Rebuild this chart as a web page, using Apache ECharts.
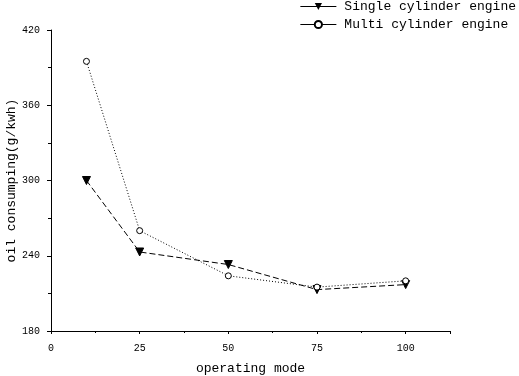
<!DOCTYPE html>
<html>
<head>
<meta charset="utf-8">
<script src="https://cdn.jsdelivr.net/npm/echarts@6/dist/echarts.min.js"></script>
<style>html,body{margin:0;padding:0;background:#fff}#c{width:519px;height:376px}</style>
</head>
<body>
<div id="c"></div>
<script>
const xValues = [10, 25, 50, 75, 100];
const singleCylinder = [300, 243, 233, 213, 217];
const multiCylinder = [395, 260, 224, 215, 220];
const seriesNames = ['Single cylinder engine', 'Multi cylinder engine'];
const xAxisTitle = 'operating mode';
const yAxisTitle = 'oil consumping(g/kwh)';

const font = 'Liberation Mono, DejaVu Sans Mono, monospace';
const chart = echarts.init(document.getElementById('c'));
chart.setOption({
  animation: false,
  backgroundColor: '#fff',
  grid: { left: 51, right: 69, top: 30, bottom: 45, containLabel: false, outerBoundsMode: 'none' },
  legend: {
    orient: 'vertical', right: 3, top: 0, padding: 0, itemGap: 5,
    itemWidth: 36, itemHeight: 9,
    textStyle: { fontFamily: font, fontSize: 13, color: '#000', padding: [0, 0, 0, 3] },
    lineStyle: { type: 'solid', width: 1 },
    data: seriesNames
  },
  xAxis: {
    type: 'value', min: 0, max: 112.5, interval: 25,
    name: xAxisTitle, nameLocation: 'middle', nameGap: 31, nameMoveOverlap: false,
    nameTextStyle: { fontFamily: font, fontSize: 13, color: '#000' },
    axisLine: { lineStyle: { color: '#000', width: 1 } },
    axisTick: { length: 3, lineStyle: { color: '#000' } },
    minorTick: { show: true, splitNumber: 2, length: 2, lineStyle: { color: '#000' } },
    axisLabel: { fontFamily: font, fontSize: 10, color: '#000', margin: 12,
      formatter: v => (v % 25 === 0 && v <= 100) ? String(v) : '' },
    splitLine: { show: false }
  },
  yAxis: {
    type: 'value', min: 180, max: 420, interval: 60,
    name: yAxisTitle, nameLocation: 'middle', nameGap: 33, nameRotate: 90, nameMoveOverlap: false,
    nameTextStyle: { fontFamily: font, fontSize: 13, color: '#000' },
    axisLine: { show: true, lineStyle: { color: '#000', width: 1 } },
    axisTick: { show: true, length: 4, lineStyle: { color: '#000' } },
    minorTick: { show: true, splitNumber: 2, length: 3, lineStyle: { color: '#000' } },
    axisLabel: { fontFamily: font, fontSize: 10, color: '#000', margin: 11 },
    splitLine: { show: false }
  },
  series: [
    {
      name: seriesNames[0], type: 'line',
      data: xValues.map((x, i) => [x, singleCylinder[i]]),
      symbol: 'triangle', symbolRotate: 180, symbolSize: 8,
      itemStyle: { color: '#000', borderColor: '#000' },
      lineStyle: { color: '#000', width: 1, type: [6, 3] }
    },
    {
      name: seriesNames[1], type: 'line',
      data: xValues.map((x, i) => [x, multiCylinder[i]]),
      symbol: 'circle', symbolSize: 6,
      itemStyle: { color: '#fff', borderColor: '#000', borderWidth: 1 },
      lineStyle: { color: '#000', width: 1, type: [1, 2] }
    }
  ]
});
</script>
</body>
</html>
